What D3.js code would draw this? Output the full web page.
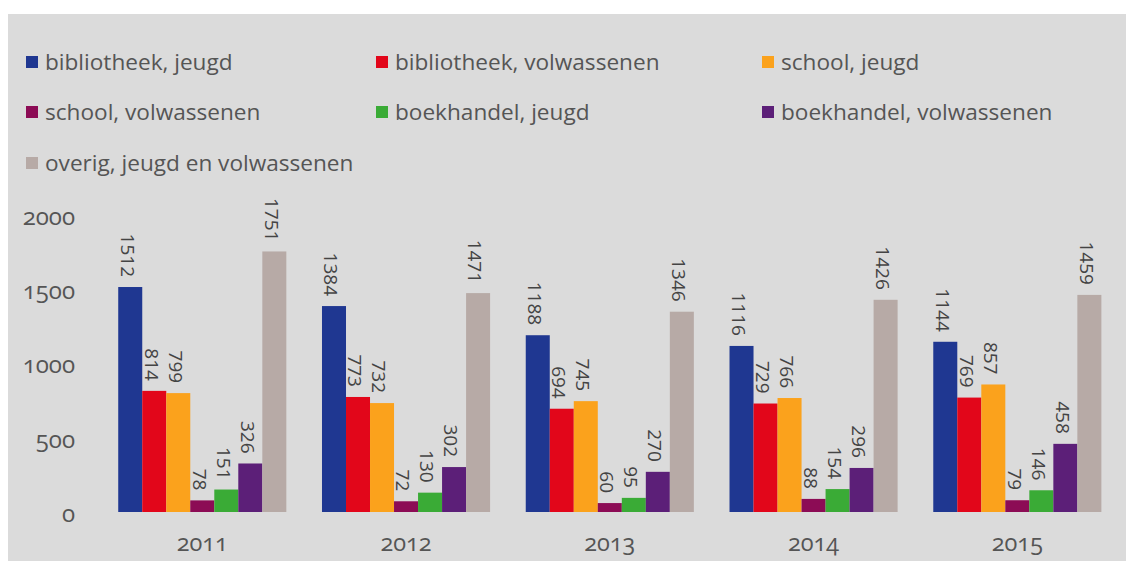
<!DOCTYPE html>
<html>
<head>
<meta charset="utf-8">
<script src="https://cdn.jsdelivr.net/npm/d3@7"></script>
<style>
  html, body { margin: 0; padding: 0; background: #ffffff; }
  svg { display: block; }
</style>
</head>
<body>
<svg id="chart" width="1126" height="561"></svg>
<script>
const years = ["2011", "2012", "2013", "2014", "2015"];
const seriesNames = [
  "bibliotheek, jeugd",
  "bibliotheek, volwassenen",
  "school, jeugd",
  "school, volwassenen",
  "boekhandel, jeugd",
  "boekhandel, volwassenen",
  "overig, jeugd en volwassenen"
];
const seriesColors = ["#1f3791", "#e2061a", "#fba21c", "#8c0c55", "#3aab36", "#5c1f78", "#b7aaa6"];
const bibJeugd = [1512, 1384, 1188, 1116, 1144];
const bibVolw = [814, 773, 694, 729, 769];
const schoolJeugd = [799, 732, 745, 766, 857];
const schoolVolw = [78, 72, 60, 88, 79];
const boekJeugd = [151, 130, 95, 154, 146];
const boekVolw = [326, 302, 270, 296, 458];
const overig = [1751, 1471, 1346, 1426, 1459];
const yTicks = [0, 500, 1000, 1500, 2000];

const seriesValues = [bibJeugd, bibVolw, schoolJeugd, schoolVolw, boekJeugd, boekVolw, overig];

const svg = d3.select("#chart");
const W = 1126, H = 561;

svg.append("rect").attr("x", 8).attr("y", 14).attr("width", W - 8).attr("height", H - 14).attr("fill", "#dbdbdb");

const FONT = '"Open Sans", "Noto Sans", sans-serif';
const TXT = "#555555";

// Legend
const legendCols = [26, 376, 762];
const legendRows = [62, 112, 163];
const lg = svg.append("g");
seriesNames.forEach((name, i) => {
  const cx = legendCols[i % 3], cy = legendRows[Math.floor(i / 3)];
  lg.append("rect").attr("x", cx).attr("y", cy - 6).attr("width", 12).attr("height", 12).attr("fill", seriesColors[i]);
  lg.append("text").attr("x", cx + 19).attr("y", cy).attr("dy", "0.35em")
    .attr("fill", TXT).style("font-family", FONT).style("font-size", "22.6px")
    .text(name);
});

// Scales
const x0 = d3.scaleBand().domain(years).range([100.4, 1119.2]).paddingInner(0.175).paddingOuter(0.0875);
const x1 = d3.scaleBand().domain(d3.range(seriesNames.length)).range([0, x0.bandwidth()]).padding(0);
const y = d3.scaleLinear().domain([0, 2000]).range([512, 214.4]);

const numStyle = (sel, size) => sel.attr("fill", TXT).style("font-family", FONT).style("font-size", size)
  .style("font-variant-numeric", "oldstyle-nums").style("font-feature-settings", '"onum"');

// Y axis ticks
const yAxis = d3.axisLeft(y).tickValues(yTicks).tickSize(0).tickPadding(0).tickFormat(d3.format("d"));
const ya = svg.append("g").attr("transform", "translate(75,2)").call(yAxis);
ya.select(".domain").remove();
ya.selectAll("text").call(numStyle, "24px");

// X axis labels
const xAxis = d3.axisBottom(x0).tickSize(0).tickPadding(0);
const xa = svg.append("g").attr("transform", "translate(0,534)").call(xAxis);
xa.select(".domain").remove();
xa.selectAll("text").call(numStyle, "23.5px");

// Bars
const data = [];
years.forEach((yr, gi) => {
  seriesValues.forEach((vals, si) => data.push({ year: yr, s: si, v: vals[gi] }));
});

svg.append("g").selectAll("rect").data(data).join("rect")
  .attr("x", d => x0(d.year) + x1(d.s))
  .attr("y", d => y(d.v))
  .attr("width", x1.bandwidth())
  .attr("height", d => y(0) - y(d.v))
  .attr("fill", d => seriesColors[d.s]);

// Value labels (rotated, reading downward)
svg.append("g").selectAll("text").data(data).join("text")
  .attr("transform", d => `translate(${x0(d.year) + x1(d.s) + x1.bandwidth() / 2 - 3},${y(d.v) - 10}) rotate(90)`)
  .attr("text-anchor", "end")
  .attr("dy", "0.35em")
  .attr("fill", "#444444")
  .style("font-family", FONT).style("font-size", "19px")
  .text(d => d.v);
</script>
</body>
</html>
